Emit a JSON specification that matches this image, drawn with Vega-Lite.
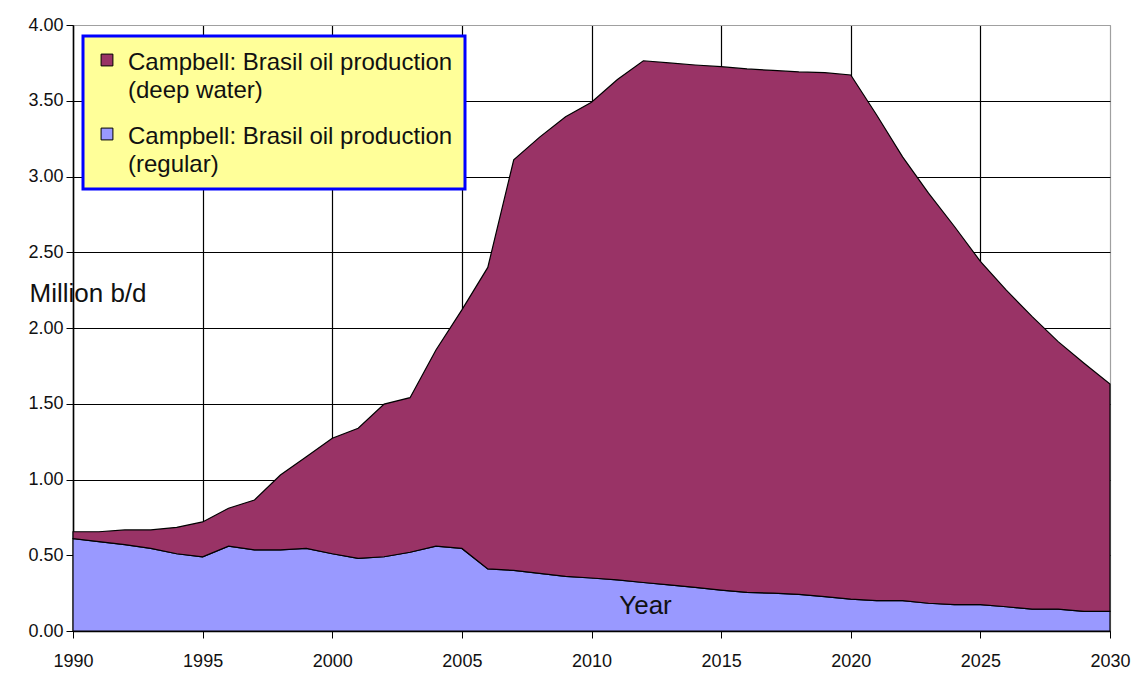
{
  "$schema": "https://vega.github.io/schema/vega-lite/v6.json",
  "width": 1037,
  "height": 606,
  "autosize": {"type": "none"},
  "padding": {"left": 73, "top": 25, "right": 26, "bottom": 44},
  "background": "white",
  "config": {
    "view": {"stroke": "#a0a0a0", "strokeWidth": 1},
    "font": "Liberation Sans"
  },
  "data": {
    "values": [
      {"year": 1990, "series": "Campbell: Brasil oil production (regular)", "value": 0.61},
      {"year": 1991, "series": "Campbell: Brasil oil production (regular)", "value": 0.59},
      {"year": 1992, "series": "Campbell: Brasil oil production (regular)", "value": 0.57},
      {"year": 1993, "series": "Campbell: Brasil oil production (regular)", "value": 0.545},
      {"year": 1994, "series": "Campbell: Brasil oil production (regular)", "value": 0.51},
      {"year": 1995, "series": "Campbell: Brasil oil production (regular)", "value": 0.49},
      {"year": 1996, "series": "Campbell: Brasil oil production (regular)", "value": 0.56},
      {"year": 1997, "series": "Campbell: Brasil oil production (regular)", "value": 0.535},
      {"year": 1998, "series": "Campbell: Brasil oil production (regular)", "value": 0.535},
      {"year": 1999, "series": "Campbell: Brasil oil production (regular)", "value": 0.545},
      {"year": 2000, "series": "Campbell: Brasil oil production (regular)", "value": 0.51},
      {"year": 2001, "series": "Campbell: Brasil oil production (regular)", "value": 0.48},
      {"year": 2002, "series": "Campbell: Brasil oil production (regular)", "value": 0.49},
      {"year": 2003, "series": "Campbell: Brasil oil production (regular)", "value": 0.52},
      {"year": 2004, "series": "Campbell: Brasil oil production (regular)", "value": 0.56},
      {"year": 2005, "series": "Campbell: Brasil oil production (regular)", "value": 0.545},
      {"year": 2006, "series": "Campbell: Brasil oil production (regular)", "value": 0.41},
      {"year": 2007, "series": "Campbell: Brasil oil production (regular)", "value": 0.40},
      {"year": 2008, "series": "Campbell: Brasil oil production (regular)", "value": 0.38},
      {"year": 2009, "series": "Campbell: Brasil oil production (regular)", "value": 0.36},
      {"year": 2010, "series": "Campbell: Brasil oil production (regular)", "value": 0.35},
      {"year": 2011, "series": "Campbell: Brasil oil production (regular)", "value": 0.337},
      {"year": 2012, "series": "Campbell: Brasil oil production (regular)", "value": 0.32},
      {"year": 2013, "series": "Campbell: Brasil oil production (regular)", "value": 0.305},
      {"year": 2014, "series": "Campbell: Brasil oil production (regular)", "value": 0.288},
      {"year": 2015, "series": "Campbell: Brasil oil production (regular)", "value": 0.27},
      {"year": 2016, "series": "Campbell: Brasil oil production (regular)", "value": 0.255},
      {"year": 2017, "series": "Campbell: Brasil oil production (regular)", "value": 0.25},
      {"year": 2018, "series": "Campbell: Brasil oil production (regular)", "value": 0.242},
      {"year": 2019, "series": "Campbell: Brasil oil production (regular)", "value": 0.227},
      {"year": 2020, "series": "Campbell: Brasil oil production (regular)", "value": 0.21},
      {"year": 2021, "series": "Campbell: Brasil oil production (regular)", "value": 0.20},
      {"year": 2022, "series": "Campbell: Brasil oil production (regular)", "value": 0.20},
      {"year": 2023, "series": "Campbell: Brasil oil production (regular)", "value": 0.183},
      {"year": 2024, "series": "Campbell: Brasil oil production (regular)", "value": 0.174},
      {"year": 2025, "series": "Campbell: Brasil oil production (regular)", "value": 0.174},
      {"year": 2026, "series": "Campbell: Brasil oil production (regular)", "value": 0.16},
      {"year": 2027, "series": "Campbell: Brasil oil production (regular)", "value": 0.145},
      {"year": 2028, "series": "Campbell: Brasil oil production (regular)", "value": 0.145},
      {"year": 2029, "series": "Campbell: Brasil oil production (regular)", "value": 0.13},
      {"year": 2030, "series": "Campbell: Brasil oil production (regular)", "value": 0.13},
      {"year": 1990, "series": "Campbell: Brasil oil production (deep water)", "value": 0.045},
      {"year": 1991, "series": "Campbell: Brasil oil production (deep water)", "value": 0.065},
      {"year": 1992, "series": "Campbell: Brasil oil production (deep water)", "value": 0.097},
      {"year": 1993, "series": "Campbell: Brasil oil production (deep water)", "value": 0.122},
      {"year": 1994, "series": "Campbell: Brasil oil production (deep water)", "value": 0.174},
      {"year": 1995, "series": "Campbell: Brasil oil production (deep water)", "value": 0.23},
      {"year": 1996, "series": "Campbell: Brasil oil production (deep water)", "value": 0.25},
      {"year": 1997, "series": "Campbell: Brasil oil production (deep water)", "value": 0.33},
      {"year": 1998, "series": "Campbell: Brasil oil production (deep water)", "value": 0.495},
      {"year": 1999, "series": "Campbell: Brasil oil production (deep water)", "value": 0.605},
      {"year": 2000, "series": "Campbell: Brasil oil production (deep water)", "value": 0.762},
      {"year": 2001, "series": "Campbell: Brasil oil production (deep water)", "value": 0.858},
      {"year": 2002, "series": "Campbell: Brasil oil production (deep water)", "value": 1.008},
      {"year": 2003, "series": "Campbell: Brasil oil production (deep water)", "value": 1.02},
      {"year": 2004, "series": "Campbell: Brasil oil production (deep water)", "value": 1.295},
      {"year": 2005, "series": "Campbell: Brasil oil production (deep water)", "value": 1.575},
      {"year": 2006, "series": "Campbell: Brasil oil production (deep water)", "value": 1.99},
      {"year": 2007, "series": "Campbell: Brasil oil production (deep water)", "value": 2.71},
      {"year": 2008, "series": "Campbell: Brasil oil production (deep water)", "value": 2.88},
      {"year": 2009, "series": "Campbell: Brasil oil production (deep water)", "value": 3.035},
      {"year": 2010, "series": "Campbell: Brasil oil production (deep water)", "value": 3.14},
      {"year": 2011, "series": "Campbell: Brasil oil production (deep water)", "value": 3.303},
      {"year": 2012, "series": "Campbell: Brasil oil production (deep water)", "value": 3.444},
      {"year": 2013, "series": "Campbell: Brasil oil production (deep water)", "value": 3.445},
      {"year": 2014, "series": "Campbell: Brasil oil production (deep water)", "value": 3.448},
      {"year": 2015, "series": "Campbell: Brasil oil production (deep water)", "value": 3.455},
      {"year": 2016, "series": "Campbell: Brasil oil production (deep water)", "value": 3.455},
      {"year": 2017, "series": "Campbell: Brasil oil production (deep water)", "value": 3.45},
      {"year": 2018, "series": "Campbell: Brasil oil production (deep water)", "value": 3.448},
      {"year": 2019, "series": "Campbell: Brasil oil production (deep water)", "value": 3.458},
      {"year": 2020, "series": "Campbell: Brasil oil production (deep water)", "value": 3.46},
      {"year": 2021, "series": "Campbell: Brasil oil production (deep water)", "value": 3.206},
      {"year": 2022, "series": "Campbell: Brasil oil production (deep water)", "value": 2.93},
      {"year": 2023, "series": "Campbell: Brasil oil production (deep water)", "value": 2.707},
      {"year": 2024, "series": "Campbell: Brasil oil production (deep water)", "value": 2.496},
      {"year": 2025, "series": "Campbell: Brasil oil production (deep water)", "value": 2.266},
      {"year": 2026, "series": "Campbell: Brasil oil production (deep water)", "value": 2.09},
      {"year": 2027, "series": "Campbell: Brasil oil production (deep water)", "value": 1.93},
      {"year": 2028, "series": "Campbell: Brasil oil production (deep water)", "value": 1.765},
      {"year": 2029, "series": "Campbell: Brasil oil production (deep water)", "value": 1.637},
      {"year": 2030, "series": "Campbell: Brasil oil production (deep water)", "value": 1.50}
    ]
  },
  "encoding": {
    "y": {
      "field": "value",
      "type": "quantitative",
      "stack": "zero",
      "scale": {"domain": [0, 4], "nice": false},
      "axis": {
        "values": [0, 0.5, 1, 1.5, 2, 2.5, 3, 3.5, 4],
        "format": ".2f",
        "title": "Million b/d",
        "titleFont": "Liberation Sans",
        "titleFontSize": 26,
        "titleFontWeight": "normal",
        "titleColor": "#111",
        "titleAngle": 0,
        "titleX": -44,
        "titleY": 268,
        "titleAlign": "left",
        "titleBaseline": "middle",
        "labelFont": "Liberation Sans",
        "labelFontSize": 18,
        "labelColor": "#111",
        "labelPadding": 3,
        "tickColor": "black",
        "tickSize": 7,
        "domainColor": "black",
        "domainWidth": 1.5,
        "grid": true,
        "gridColor": {"condition": {"test": "datum.value == 4", "value": "#a0a0a0"}, "value": "black"},
        "gridWidth": 1.2,
        "gridOpacity": 1
      }
    },
    "color": {
      "field": "series",
      "type": "nominal",
      "scale": {
        "domain": ["Campbell: Brasil oil production (deep water)", "Campbell: Brasil oil production (regular)"],
        "range": ["#993366", "#9999FF"]
      },
      "legend": {
        "orient": "none",
        "legendX": 10,
        "legendY": 11,
        "title": null,
        "fillColor": "#FFFF99",
        "strokeColor": "#0000FF",
        "padding": 12,
        "symbolType": "square",
        "symbolSize": 140,
        "symbolStrokeColor": "black",
        "symbolStrokeWidth": 1,
        "symbolOpacity": 1,
        "labelFont": "Liberation Sans",
        "labelFontSize": 24,
        "labelColor": "#111",
        "labelLimit": 500,
        "labelOffset": 9,
        "rowPadding": 19,
        "labelExpr": "[slice(datum.label, 0, 31), slice(datum.label, 32)]",
        "encode": {
          "legend": {"update": {"strokeWidth": {"value": 3}}},
          "labels": {"update": {"lineHeight": {"value": 28}, "dy": {"value": 3}}}
        }
      }
    },
    "order": {"field": "series", "sort": "descending"}
  },
  "layer": [
    {
      "mark": {"type": "area", "stroke": "black", "strokeWidth": 1.2, "opacity": 1},
      "encoding": {
        "x": {
          "field": "year",
          "type": "quantitative",
          "scale": {"domain": [1990, 2030], "nice": false, "zero": false},
          "axis": {
            "orient": "bottom",
            "values": [1990, 1995, 2000, 2005, 2010, 2015, 2020, 2025, 2030],
            "format": "d",
            "title": null,
            "zindex": 0,
            "labelFont": "Liberation Sans",
            "labelFontSize": 18,
            "labelColor": "#111",
            "labelPadding": 14,
            "labelFlush": false,
            "tickColor": "black",
            "tickSize": 7,
            "domainColor": "black",
            "domainWidth": 1.5,
            "grid": true,
            "gridColor": {"condition": {"test": "datum.value == 2030", "value": "#a0a0a0"}, "value": "black"},
            "gridWidth": 1.2,
            "gridOpacity": 1
          }
        }
      }
    },
    {
      "mark": {"type": "area", "opacity": 0},
      "encoding": {
        "x": {
          "field": "year",
          "type": "quantitative",
          "scale": {"domain": [1990, 2030], "nice": false, "zero": false},
          "axis": {
            "orient": "top",
            "zindex": 2,
            "labels": false,
            "ticks": false,
            "domain": false,
            "grid": false,
            "title": "Year",
            "titleFont": "Liberation Sans",
            "titleFontSize": 26,
            "titleFontWeight": "normal",
            "titleColor": "#111",
            "titleX": 572,
            "titleY": 580,
            "titleAlign": "center",
            "titleBaseline": "middle"
          }
        }
      }
    }
  ],
  "resolve": {"axis": {"x": "independent"}}
}
